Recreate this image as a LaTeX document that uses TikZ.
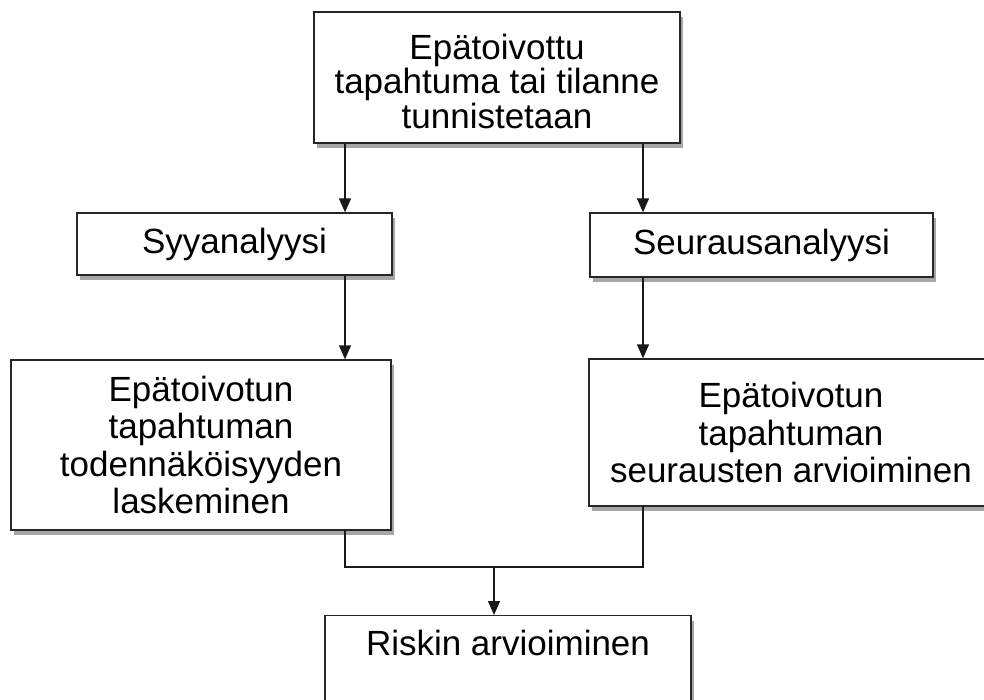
\documentclass[tikz,border=0pt]{standalone}
\usepackage{fontspec}
\setmainfont{Liberation Sans}
\usetikzlibrary{arrows.meta,shadows}
\begin{document}
\begin{tikzpicture}[x=1pt,y=-1pt,
  box/.style={draw=black!85,line width=1.3pt,fill=white,rectangle,inner sep=0pt,align=center,
    font=\fontsize{35}{37.5}\selectfont,
    drop shadow={shadow xshift=3pt,shadow yshift=-5pt,fill=black,opacity=0.35}},
  conn/.style={line width=1.3pt,draw=black!90},
  arr/.style={conn,-{Triangle[length=14pt,width=12pt]}}]
\useasboundingbox (0,0) rectangle (984,700);
\fill[white] (0,0) rectangle (984,700);
\coordinate (xl) at (345,0);
\coordinate (xr) at (643,0);
\coordinate (join) at (494,567);
\node[box,minimum width=366pt,minimum height=131pt,font=\fontsize{35}{34.5}\selectfont] (top) at (497,77.5)
  {\rule{0pt}{33pt}Epätoivottu\\tapahtuma tai tilanne\\tunnistetaan};
\node[box,minimum width=315pt,minimum height=62pt] (syy) at (234.5,244) {Syyanalyysi};
\node[box,minimum width=343pt,minimum height=64pt] (seur) at (761.5,245) {Seurausanalyysi};
\node[box,minimum width=380pt,minimum height=170pt] (todn) at (201,445)
  {Epätoivotun\\tapahtuman\\todennäköisyyden\\laskeminen};
\node[box,minimum width=404pt,minimum height=147pt] (seurarv) at (791,432.5)
  {Epätoivotun\\tapahtuman\\seurausten arvioiminen};
\node[box,minimum width=366pt,anchor=north,inner ysep=10pt,text height=30pt,text depth=60pt] (risk) at (508,615)
  {Riskin arvioiminen};
\draw[arr] (top.south -| xl) -- (syy.north -| xl);
\draw[arr] (top.south -| xr) -- (seur.north -| xr);
\draw[arr] (syy.south -| xl) -- (todn.north -| xl);
\draw[arr] (seur.south -| xr) -- (seurarv.north -| xr);
\draw[conn] (todn.south -| xl) -- (join -| xl) -- (join -| xr) -- (seurarv.south -| xr);
\draw[arr] (join) -- (risk.north -| join);
\end{tikzpicture}
\end{document}
